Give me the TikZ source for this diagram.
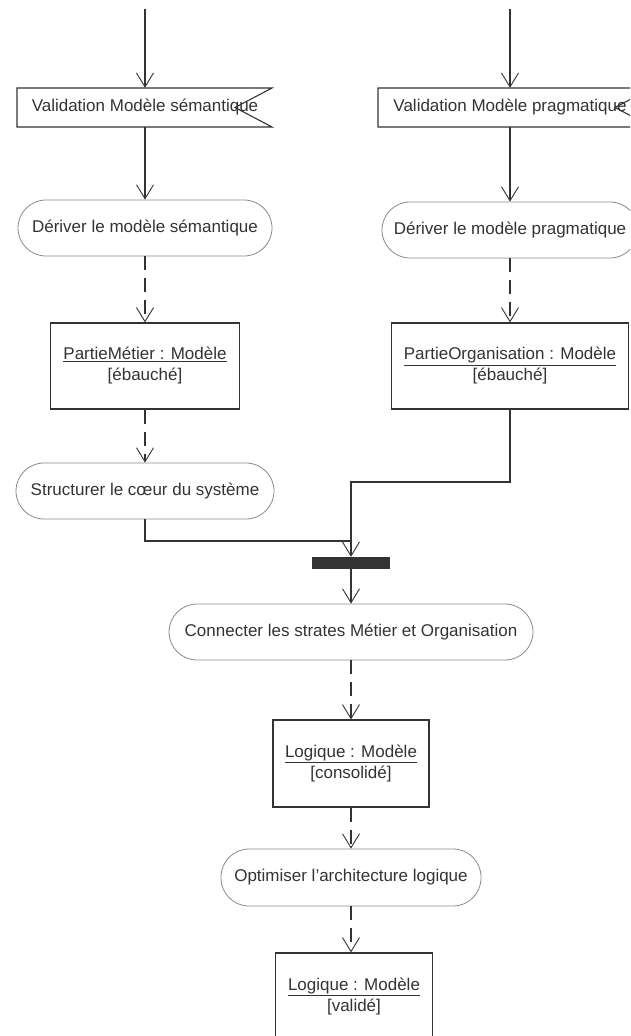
\documentclass[tikz,border=0pt]{standalone}
\usepackage{fontspec}
\setmainfont{Liberation Sans}
\usetikzlibrary{arrows.meta,calc}
\definecolor{ink}{HTML}{333333}
\definecolor{soft}{HTML}{8A8A8A}

\begin{document}
\begin{tikzpicture}[x=1pt,y=-1pt,
  font=\fontsize{17}{21}\selectfont, text=ink,
  flow/.style={draw=ink, line width=1.1pt,
    -{Straight Barb[length=14pt,width=17pt,line width=0.9pt]}},
  objflow/.style={flow, dash pattern=on 14pt off 8pt},
  plain/.style={draw=ink, line width=1.1pt},
  action/.style={draw=soft, line width=0.8pt, rounded corners=28pt,
    minimum height=56pt, inner sep=0pt},
  objbox/.style={draw=ink, line width=1.1pt, minimum height=87pt,
    inner sep=0pt, align=center},
  signal/.style={minimum height=39pt, inner sep=0pt},
  sigshape/.style={draw=ink, line width=1.1pt},
  joinbar/.style={fill=ink, minimum width=78pt, minimum height=12pt, inner sep=0pt},
]
\useasboundingbox (0,0) rectangle (630,1036);
\clip (0,0) rectangle (630,1036);

% accept-event signals
\draw[sigshape] (17,88) -- (272,88) -- (235,107.5) -- (272,127) -- (17,127) -- cycle;
\draw[sigshape] (378,88) -- (652,88) -- (615,107.5) -- (652,127) -- (378,127) -- cycle;
\node[signal] (sigA) at (145,107.5) {Validation Modèle sémantique};
\node[signal] (sigB) at (510,107.5) {Validation Modèle pragmatique};

% actions and object nodes
\node[action, minimum width=254pt] (derA) at (145,228) {Dériver le modèle sémantique};
\node[action, minimum width=256pt] (derB) at (510,230) {Dériver le modèle pragmatique};
\node[objbox, minimum width=189pt, minimum height=86pt] (partA) at (145,366)
  {\underline{PartieMétier : Modèle}\\{}[ébauché]};
\node[objbox, minimum width=237pt, minimum height=86pt] (partB) at (510,366)
  {\underline{PartieOrganisation : Modèle}\\{}[ébauché]};
\node[action, minimum width=258pt] (strA) at (145,491) {Structurer le cœur du système};
\node[joinbar] (bar) at (351,563) {};
\node[action, minimum width=364pt] (conn) at (351,632) {Connecter les strates Métier et Organisation};
\node[objbox, minimum width=156pt] (logC) at (351,763.5)
  {\underline{Logique : Modèle}\\{}[consolidé]};
\node[action, minimum width=260pt, minimum height=57pt] (opt) at (351,877.5)
  {Optimiser l’architecture logique};
\node[objbox, minimum width=157pt] (logV) at (354,996.5)
  {\underline{Logique : Modèle}\\{}[validé]};

% free ends and bends
\coordinate (topA) at (145,9);
\coordinate (topB) at (510,9);
\coordinate (mB) at (510,482);
\coordinate (jn) at (351,541);

% control flows
\draw[flow] (topA) -- (sigA.north);
\draw[flow] (sigA.south) -- (derA.north);
\draw[flow] (topB) -- (sigB.north);
\draw[flow] (sigB.south) -- (derB.north);
\draw[plain] (strA.south) |- (jn);
\draw[flow] (partB.south) -- (mB) -| (bar.north);
\draw[flow] (bar.south) -- (conn.north);

% object flows
\draw[objflow] (derA.south) -- (partA.north);
\draw[objflow] (derB.south) -- (partB.north);
\draw[objflow] (partA.south) -- (strA.north);
\draw[objflow] (conn.south) -- (logC.north);
\draw[objflow] (logC.south) -- (opt.north);
\draw[objflow] (opt.south) -- (opt.south |- logV.north);
\end{tikzpicture}
\end{document}
